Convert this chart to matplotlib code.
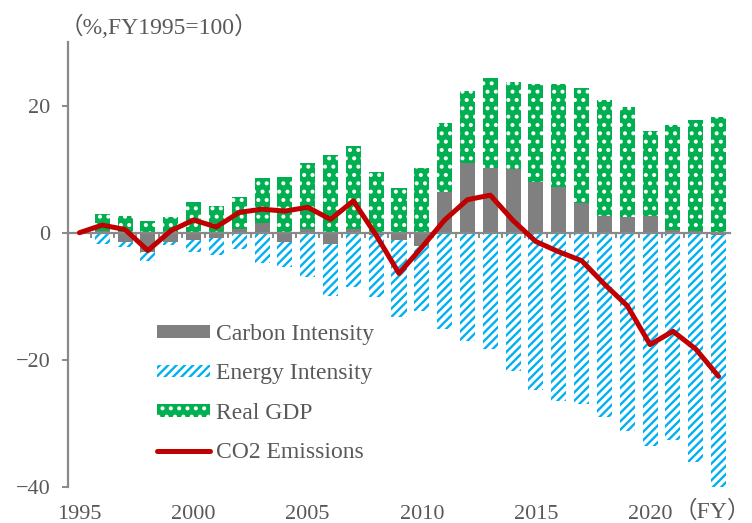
import numpy as np
import matplotlib
matplotlib.use("Agg")
import matplotlib.pyplot as plt

years = np.arange(1995, 2024)
carbon = [0.0, 0.2, -1.5, -3.0, -1.5, -1.2, -0.9, 0.6, 1.6, -1.5,
          0.6, -1.7, 0.6, -0.3, -1.1, -2.1, 6.4, 11.0, 10.2, 10.0,
          8.0, 7.2, 4.7, 2.7, 2.4, 2.7, 0.5, 0.2, -0.3]
energy = [0.0, -1.8, -0.8, -1.5, -0.5, -1.8, -2.6, -2.5, -4.7, -3.9,
          -6.9, -8.2, -8.6, -9.8, -12.2, -10.2, -15.1, -17.1, -18.3, -21.8,
          -24.7, -26.4, -26.9, -29.0, -31.2, -33.5, -32.6, -36.1, -39.8]
gdp = [0.0, 2.7, 2.7, 1.8, 2.4, 4.9, 4.2, 5.0, 7.0, 8.8,
       10.3, 12.2, 13.1, 9.5, 7.0, 10.2, 10.9, 11.3, 14.1, 13.7,
       15.4, 16.2, 18.0, 18.1, 17.3, 13.3, 16.5, 17.6, 18.2]
co2 = [0.0, 1.2, 0.5, -2.8, 0.3, 2.0, 0.9, 3.2, 3.7, 3.4,
       4.0, 2.1, 5.0, -0.4, -6.4, -2.3, 2.0, 5.2, 5.9, 1.9,
       -1.4, -3.0, -4.4, -8.1, -11.5, -17.6, -15.5, -18.3, -22.6]
label_years = [1995, 2000, 2005, 2010, 2015, 2020]

txt = "#595959"
axis_col = "#898989"
plt.rcParams["font.family"] = ["Liberation Serif", "Noto Sans CJK JP", "DejaVu Sans"]
plt.rcParams["hatch.linewidth"] = 1.7

carbon = np.array(carbon)
energy = np.array(energy)
gdp = np.array(gdp)

fig = plt.figure(figsize=(7.52, 5.23), dpi=100)
ax = fig.add_axes([68 / 752, 36 / 523, 662 / 752, 445 / 523])

w = 0.66
b1 = ax.bar(years, carbon, w, color="#808080", linewidth=0)
b2 = ax.bar(years, energy, w, bottom=np.minimum(carbon, 0), facecolor="white",
            edgecolor="#00B0F0", hatch="////", linewidth=0)
b3 = ax.bar(years, gdp, w, bottom=np.maximum(carbon, 0), facecolor="#00B050",
            edgecolor="white", hatch="..", linewidth=0)
l1, = ax.plot(years, co2, color="#C00000", lw=3.6, solid_capstyle="round",
              solid_joinstyle="round", zorder=3)

ax.set_xlim(1994.5, 2023.5)
ax.set_ylim(-40, 30)
ax.set_yticks([-40, -20, 0, 20])
ax.set_yticklabels(["\u221240", "\u221220", "0", "20"])

for s in ["top", "right"]:
    ax.spines[s].set_visible(False)
ax.spines["left"].set_color(axis_col)
ax.spines["left"].set_linewidth(1.6)
ax.spines["bottom"].set_position(("data", 0))
ax.spines["bottom"].set_color(axis_col)
ax.spines["bottom"].set_linewidth(1.6)
ax.spines["bottom"].set_zorder(2.5)

ax.tick_params(axis="y", colors=axis_col, labelcolor=txt, labelsize=16,
               length=4.5, width=1.4, pad=8)
ax.set_xticks(np.arange(1995.5, 2023.5, 1.0))
ax.tick_params(axis="x", colors=axis_col, length=3.5, width=1.4,
               labelbottom=False)

sec = ax.secondary_xaxis("bottom")
sec.set_xticks(label_years)
sec.set_xticklabels([str(y) for y in label_years])
sec.spines["bottom"].set_visible(False)
sec.tick_params(length=0, labelsize=16, labelcolor=txt, pad=13)

fig.text(60 / 752, 1 - 27 / 523, "\uff08%,FY1995=100\uff09", fontsize=17,
         color=txt, va="center", ha="left")
fig.text(751 / 752, 1 - 512 / 523, "\uff08FY\uff09", fontsize=17,
         color=txt, va="center", ha="right")

ax.legend([b1, b2, b3, l1],
          ["Carbon Intensity", "Energy Intensity", "Real GDP", "CO2 Emissions"],
          loc="upper left", bbox_to_anchor=(0.116, 0.393), frameon=False,
          fontsize=17, labelcolor=txt, handlelength=2.25, handleheight=0.45,
          handletextpad=0.25, labelspacing=0.78, borderpad=0)

fig.savefig("out.png", dpi=100)
